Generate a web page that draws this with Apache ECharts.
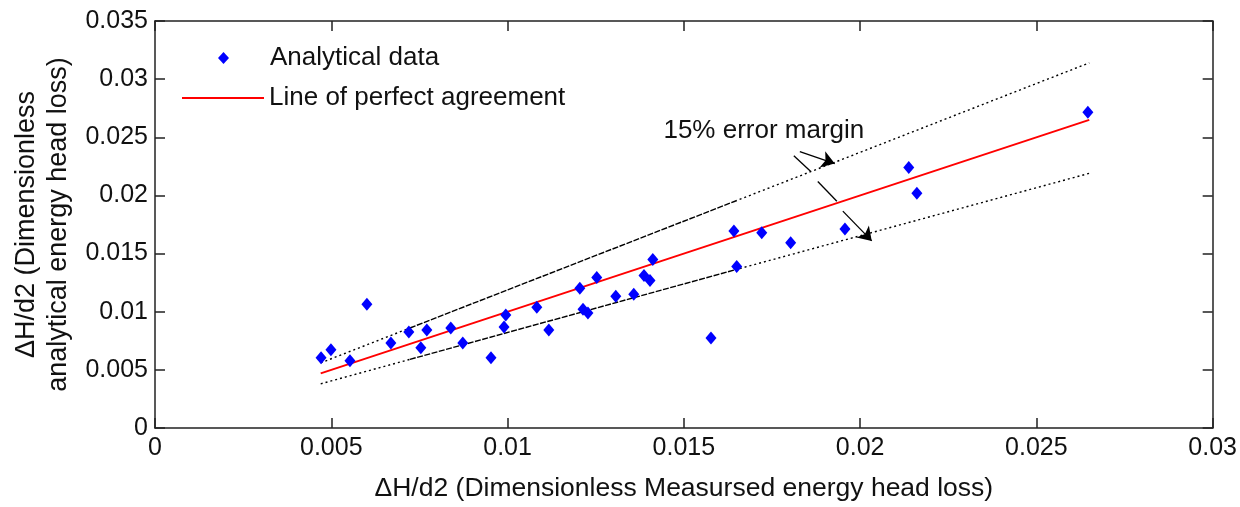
<!DOCTYPE html>
<html>
<head>
<meta charset="utf-8">
<script src="https://cdn.jsdelivr.net/npm/echarts@6/dist/echarts.min.js"></script>
<style>html,body{margin:0;padding:0;background:#fff}#c{width:1240px;height:507px}</style>
</head>
<body>
<div id="c"></div>
<script>
// ---- data ----
const measured = [0.00471,0.00499,0.00553,0.00601,0.00669,0.00720,0.00754,0.00771,0.00839,0.00873,0.00953,0.00990,0.00995,0.01083,0.01117,0.01205,0.01214,0.01228,0.01253,0.01307,0.01358,0.01387,0.01404,0.01412,0.01577,0.01642,0.01650,0.01721,0.01803,0.01957,0.02138,0.02161,0.02646];
const analytical = [0.00605,0.00673,0.00579,0.01064,0.00732,0.00826,0.00690,0.00843,0.00860,0.00732,0.00605,0.00869,0.00971,0.01039,0.00843,0.01201,0.01022,0.00988,0.01294,0.01133,0.01150,0.01311,0.01269,0.01448,0.00775,0.01695,0.01388,0.01678,0.01592,0.01712,0.02240,0.02018,0.02716];
const perfectX = [0.0047, 0.0265];
const perfectY = [0.0047, 0.0265];
// error-margin lines, points read along each line where its dot pattern changes
const upperX = [0.0047, 0.00723, 0.01645, 0.0265];
const upperY = [0.0056, 0.0086, 0.0195, 0.0314];
const lowerX = [0.0047, 0.00723, 0.01645, 0.0265];
const lowerY = [0.0038, 0.0059, 0.0136, 0.0219];
const xTicks = {min: 0, max: 0.03, interval: 0.005};
const yTicks = {min: 0, max: 0.035, interval: 0.005};
const annotationText = '15% error margin';
const annotationPos = [0.01727, 0.02555];
const arrowSegments = [
  [[0.01829, 0.02376], [0.01928, 0.02274], true],
  [[0.01812, 0.02342], [0.01860, 0.02206], false],
  [[0.01880, 0.02120], [0.01934, 0.01950], false],
  [[0.01951, 0.01865], [0.02033, 0.01609], true]
];
const seriesNames = ['Analytical data', 'Line of perfect agreement'];
const xName = 'ΔH/d2 (Dimensionless Measursed energy head loss)';
const yName = 'ΔH/d2 (Dimensionless\nanalytical energy head loss)';

// ---- build ----
const FONT = "'Liberation Sans', Arial, sans-serif";
const FS = 25;
const pts = measured.map((x, i) => [x, analytical[i]]);
const pair = (xs, ys) => xs.map((x, i) => [x, ys[i]]);
const segStyles = [[2, 3], [6, 1.5], [2, 3]];
function bandSeries(xs, ys) {
  const out = [];
  for (let i = 0; i < xs.length - 1; i++) {
    out.push({
      type: 'line', data: [[xs[i], ys[i]], [xs[i+1], ys[i+1]]],
      symbol: 'none', silent: true, z: 2,
      lineStyle: {color: '#000', width: 1.4, type: segStyles[i]}
    });
  }
  return out;
}
const axisCommon = (o) => ({
  type: 'value',
  min: o.min, max: o.max, interval: o.interval,
  splitLine: {show: false},
  axisLine: {show: true, onZero: false, lineStyle: {color: '#222', width: 1.5}},
  axisTick: {show: true, inside: true, length: 10, lineStyle: {color: '#222', width: 1.5}},
});
const legendText = {fontFamily: FONT, fontSize: 26, color: '#111', lineHeight: 30};

const chart = echarts.init(document.getElementById('c'));
chart.setOption({
  animation: false,
  backgroundColor: '#fff',
  textStyle: {fontFamily: FONT},
  grid: {left: 155, right: 27, top: 21, bottom: 75, containLabel: false},
  legend: [
    {
      data: [{name: seriesNames[0], icon: 'diamond'}],
      left: 213, top: 38,
      itemWidth: 11, itemHeight: 12,
      textStyle: Object.assign({padding: [0, 0, 0, 36]}, legendText)
    },
    {
      data: [{name: seriesNames[1], icon: 'rect'}],
      left: 177, top: 78,
      itemWidth: 82, itemHeight: 2,
      textStyle: legendText
    }
  ],
  xAxis: [
    Object.assign(axisCommon(xTicks), {
      position: 'bottom',
      name: xName, nameLocation: 'middle', nameGap: 47,
      nameTextStyle: {fontFamily: FONT, fontSize: 26.5, color: '#111'},
      axisLabel: {fontFamily: FONT, fontSize: FS, color: '#111', margin: 8}
    }),
    Object.assign(axisCommon(xTicks), {position: 'top', axisLabel: {show: false}})
  ],
  yAxis: [
    Object.assign(axisCommon(yTicks), {
      position: 'left',
      name: yName, nameLocation: 'middle', nameGap: 80, nameRotate: 90,
      nameTextStyle: {fontFamily: FONT, fontSize: 27, color: '#111', lineHeight: 32},
      axisLabel: {fontFamily: FONT, fontSize: FS, color: '#111', margin: 7}
    }),
    Object.assign(axisCommon(yTicks), {position: 'right', axisLabel: {show: false}})
  ],
  series: [
    {
      name: seriesNames[1], type: 'line', data: pair(perfectX, perfectY),
      symbol: 'none', z: 3, itemStyle: {color: '#ff0000'},
      lineStyle: {color: '#ff0000', width: 2}
    },
    ...bandSeries(upperX, upperY),
    ...bandSeries(lowerX, lowerY),
    {
      name: seriesNames[0], type: 'scatter', data: pts, z: 5,
      symbol: 'diamond', symbolSize: [11, 13],
      itemStyle: {color: '#0000ff', opacity: 1}
    },
    {
      name: 'annotation', type: 'line', data: [], silent: true, z: 6,
      markPoint: {
        silent: true, symbol: 'circle', symbolSize: 0,
        data: [{coord: annotationPos}],
        label: {show: true, position: 'inside', formatter: annotationText,
                fontFamily: FONT, fontSize: 26, color: '#111'}
      },
      markLine: {
        silent: true, animation: false, precision: 6,
        label: {show: false},
        symbolSize: 13,
        data: arrowSegments.map(s => [
          {coord: s[0], symbol: 'none'},
          {coord: s[1], symbol: s[2] ? 'arrow' : 'none'}
        ]),
        lineStyle: {color: '#000', width: 1.3, type: 'solid'}
      }
    }
  ]
});
</script>
</body>
</html>
